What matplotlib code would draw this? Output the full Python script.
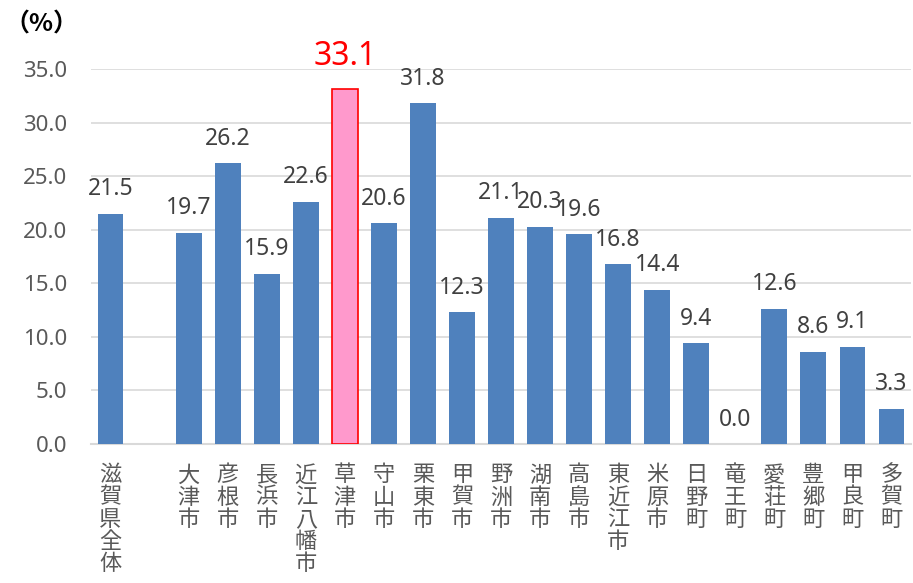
import matplotlib.pyplot as plt

plt.rcParams['font.family'] = ['Noto Sans', 'Noto Sans CJK JP', 'DejaVu Sans']

areas = ['滋賀県全体', '', '大津市', '彦根市', '長浜市', '近江八幡市', '草津市', '守山市',
         '栗東市', '甲賀市', '野洲市', '湖南市', '高島市', '東近江市', '米原市',
         '日野町', '竜王町', '愛荘町', '豊郷町', '甲良町', '多賀町']
rates = [21.5, None, 19.7, 26.2, 15.9, 22.6, 33.1, 20.6, 31.8, 12.3, 21.1, 20.3,
         19.6, 16.8, 14.4, 9.4, 0.0, 12.6, 8.6, 9.1, 3.3]
highlight = '草津市'
yticks = [0, 5, 10, 15, 20, 25, 30, 35]

fig = plt.figure(figsize=(9.13, 5.83), dpi=100)
ax = fig.add_axes([91 / 913, 139 / 583, 820 / 913, 375 / 583])

gray = '#595959'
for i, (name, v) in enumerate(zip(areas, rates)):
    if v is None:
        continue
    if name == highlight:
        ax.bar(i, v, width=0.66, color='#FF99CC', edgecolor='#FF0000', linewidth=1.2, zorder=3)
        ax.annotate(f'{v:.1f}', (i, v), xytext=(0, 12), textcoords='offset points',
                    ha='center', va='bottom', fontsize=23, color='#FF0000')
    else:
        ax.bar(i, v, width=0.66, color='#4F81BD', zorder=3)
        ax.annotate(f'{v:.1f}', (i, v), xytext=(0, 9), textcoords='offset points',
                    ha='center', va='bottom', fontsize=16.5, color='#404040')

ax.set_xlim(-0.5, len(areas) - 0.5)
ax.set_ylim(0, 35)
ax.set_yticks(yticks)
ax.set_yticklabels([f'{t:.1f}' for t in yticks], fontsize=16, color=gray)
ax.tick_params(axis='y', length=0, pad=17)
ax.yaxis.grid(True, color='#D9D9D9', linewidth=1.2, zorder=0)
ax.set_axisbelow(True)

ax.set_xticks(range(len(areas)))
ax.set_xticklabels(['\n'.join(a) for a in areas], fontsize=16, color=gray,
                   va='top', linespacing=0.95, family=['Noto Sans CJK JP'])
ax.tick_params(axis='x', length=0, pad=14)

for s in ['top', 'right', 'left']:
    ax.spines[s].set_visible(False)
ax.spines['bottom'].set_color('#D9D9D9')
ax.spines['bottom'].set_linewidth(1.5)

# unit label
fig.text(4 / 913, 1 - 25 / 583, '（%）', fontsize=18, va='center', fontweight='bold',
         family=['Noto Sans CJK JP'])

fig.savefig('out.png', dpi=100)
